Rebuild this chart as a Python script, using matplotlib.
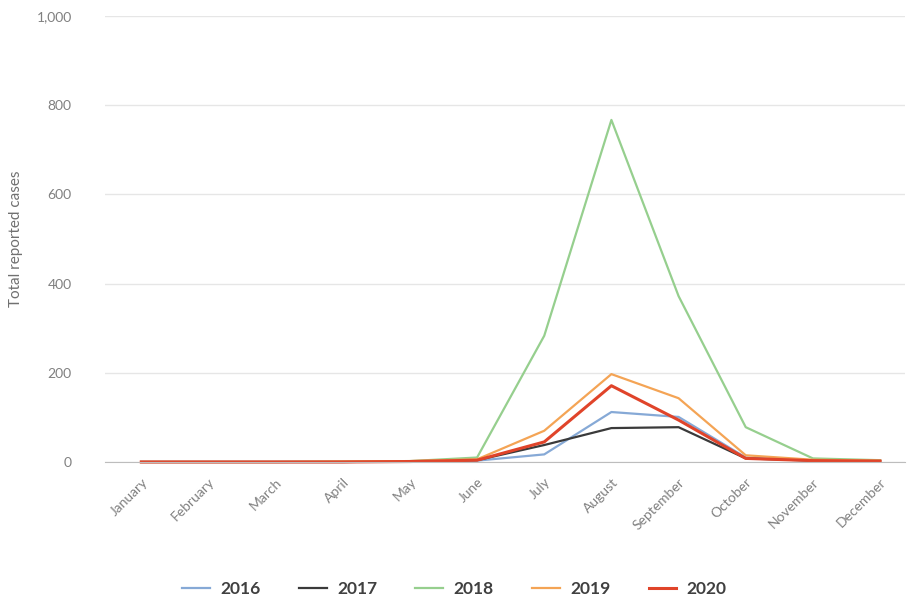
import matplotlib.pyplot as plt

# ------------------------------------------
# Data
# ------------------------------------------
months = ["January", "February", "March", "April", "May", "June",
          "July", "August", "September", "October", "November", "December"]

cases_2016 = [0, 0, 0, 0, 1, 3, 17, 112, 101, 10, 3, 2]
cases_2017 = [0, 0, 0, 0, 1, 4, 38, 76, 78, 8, 3, 2]
cases_2018 = [0, 0, 0, 1, 2, 10, 283, 767, 372, 78, 8, 4]
cases_2019 = [0, 0, 0, 1, 2, 6, 70, 197, 143, 15, 5, 3]
cases_2020 = [0, 0, 0, 0, 1, 4, 45, 171, 94, 8, 3, 2]

years = ["2016", "2017", "2018", "2019", "2020"]
series = [cases_2016, cases_2017, cases_2018, cases_2019, cases_2020]
colors = ["#86a9d6", "#3a3a3a", "#96cf8e", "#f4a455", "#e0442a"]
widths = [1.6, 1.6, 1.6, 1.6, 2.2]

plt.rcParams["font.family"] = ["Lato", "DejaVu Sans"]

# ------------------------------------------
# Plot
# ------------------------------------------
fig = plt.figure(figsize=(9.09, 6.02), dpi=100)
ax = fig.add_axes([0.1155, 0.2326, 0.880, 0.7408])

x = range(len(months))
for yr, vals, c, w in zip(years, series, colors, widths):
    ax.plot(x, vals, color=c, linewidth=w, label=yr, clip_on=False)

ax.set_xlim(-0.54, 11.37)
ax.set_ylim(0, 1000)
ax.set_yticks([0, 200, 400, 600, 800, 1000])
ax.set_yticklabels(["0", "200", "400", "600", "800", "1,000"])
ax.set_xticks(list(x))
ax.set_xticklabels(months, rotation=45, ha="right", rotation_mode="anchor")

ax.grid(axis="y", color="#e6e6e6", linewidth=1)
ax.set_axisbelow(True)
for s in ["top", "right", "left"]:
    ax.spines[s].set_visible(False)
ax.spines["bottom"].set_color("#bdbdbd")
ax.tick_params(axis="both", length=0, colors="#808080", labelsize=10)
ax.tick_params(axis="x", pad=10)
ax.tick_params(axis="y", pad=24)

ax.set_ylabel("Total reported cases", color="#707070", fontsize=11, labelpad=10)

leg = fig.legend(loc="lower center", ncol=5, frameon=False,
                 bbox_to_anchor=(0.5, -0.018), fontsize=12.5,
                 handlelength=1.6, handletextpad=0.6, columnspacing=2.2)
for t in leg.get_texts():
    t.set_color("#404040")
    t.set_fontweight("bold")

fig.savefig("out.png", dpi=100, facecolor="white")
